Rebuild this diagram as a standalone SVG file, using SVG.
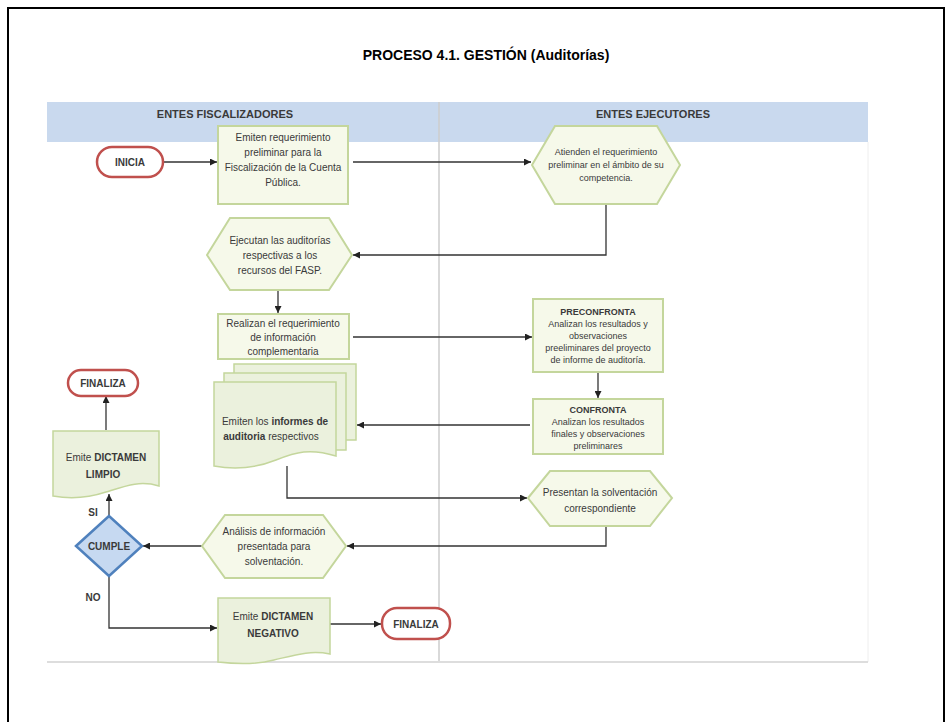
<svg xmlns="http://www.w3.org/2000/svg" width="952" height="722" viewBox="0 0 952 722">
<defs>
<marker id="ah" viewBox="0 0 10 10" refX="10" refY="5" markerWidth="7" markerHeight="7" orient="auto" markerUnits="userSpaceOnUse">
<path d="M0,0 L10,5 L0,10 Z" fill="#222"/>
</marker>
<style>
.t{font-family:"Liberation Sans",Arial,sans-serif;fill:#3a3a3a;text-anchor:middle}
.s9{font-size:9px}
.s10{font-size:10px}
.b{font-weight:bold}
.box{fill:#f6f9ea;stroke:#c4d69c;stroke-width:2}
.doc{fill:#ebf1dd;stroke:#c4d69c;stroke-width:1.5}
.pill{fill:#fff;stroke:#c0504d;stroke-width:2.5}
.c{fill:none;stroke:#333;stroke-width:1.3;marker-end:url(#ah)}
</style>
</defs>
<rect x="0" y="0" width="952" height="722" fill="#fff"/>
<rect x="8" y="8" width="936" height="730" fill="none" stroke="#000" stroke-width="2"/>
<text x="486" y="60" font-family="'Liberation Sans',Arial,sans-serif" font-size="14" font-weight="bold" text-anchor="middle" fill="#000">PROCESO 4.1. GESTIÓN (Auditorías)</text>

<g id="lanes">
<rect x="47" y="102" width="821" height="40" fill="#c9d9ee"/>
<line x1="439" y1="102" x2="439" y2="662" stroke="#ccc" stroke-width="1.5"/>
<line x1="868" y1="142" x2="868" y2="662" stroke="#eee" stroke-width="1"/>
<line x1="47" y1="662" x2="868" y2="662" stroke="#ddd" stroke-width="2"/>
<text class="t b" x="225" y="118" font-size="11">ENTES FISCALIZADORES</text>
<text class="t b" x="653" y="118" font-size="11">ENTES EJECUTORES</text>
</g>

<g id="connectors">
<path class="c" d="M163,162 H217"/>
<path class="c" d="M353,162 H531"/>
<path class="c" d="M606,204 V255 H353"/>
<path class="c" d="M278,290 V313"/>
<path class="c" d="M353,337 H532"/>
<path class="c" d="M598,372 V398"/>
<path class="c" d="M530,425 H357"/>
<path class="c" d="M287,466 V498 H527"/>
<path class="c" d="M606,527 V546 H347"/>
<path class="c" d="M202,546 H143"/>
<path class="c" d="M109,516 V494"/>
<path class="c" d="M106,430 V396"/>
<path class="c" d="M109,576 V628 H217"/>
<path class="c" d="M330,624 H381"/>
</g>

<g id="inicia">
<rect class="pill" x="97" y="147" width="66" height="30" rx="15"/>
<text class="t b s10" x="130" y="166">INICIA</text>
</g>

<g id="emiten-req">
<rect class="box" x="218" y="126" width="130" height="78"/>
<text class="t s10" x="283" y="141">Emiten requerimiento</text>
<text class="t s10" x="283" y="156">preliminar para la</text>
<text class="t s10" x="283" y="171">Fiscalización de la Cuenta</text>
<text class="t s10" x="283" y="186">Pública.</text>
</g>

<g id="atienden">
<polygon class="box" points="532,165 555,126 657,126 680,165 657,204 555,204"/>
<text class="t s9" x="606" y="155">Atienden el requerimiento</text>
<text class="t s9" x="606" y="168">preliminar en el ámbito de su</text>
<text class="t s9" x="606" y="181">competencia.</text>
</g>

<g id="ejecutan">
<polygon class="box" points="207,255 230,218 329,218 352,255 329,290 230,290"/>
<text class="t s10" x="280" y="244">Ejecutan las auditorías</text>
<text class="t s10" x="280" y="259">respectivas a los</text>
<text class="t s10" x="280" y="274">recursos del FASP.</text>
</g>

<g id="realizan">
<rect class="box" x="218" y="314" width="131" height="45"/>
<text class="t s10" x="283" y="327">Realizan el requerimiento</text>
<text class="t s10" x="283" y="341">de información</text>
<text class="t s10" x="283" y="355">complementaria</text>
</g>

<g id="preconfronta">
<rect class="box" x="533" y="299" width="130" height="73"/>
<text class="t s9 b" x="598" y="315">PRECONFRONTA</text>
<text class="t s9" x="598" y="327">Analizan los resultados y</text>
<text class="t s9" x="598" y="339">observaciones</text>
<text class="t s9" x="598" y="351">preeliminares del proyecto</text>
<text class="t s9" x="598" y="363">de informe de auditoría.</text>
</g>

<g id="confronta">
<rect class="box" x="533" y="399" width="130" height="55"/>
<text class="t s9 b" x="598" y="413">CONFRONTA</text>
<text class="t s9" x="598" y="425">Analizan los resultados</text>
<text class="t s9" x="598" y="437">finales y observaciones</text>
<text class="t s9" x="598" y="449">preliminares</text>
</g>

<g id="informes">
<path class="doc" d="M234,364 H356 V440 H234 Z"/>
<path class="doc" d="M224,373 H346 V450 H224 Z"/>
<path class="doc" d="M214,382 H336 V456 C310,448 296,452 276,460 C256,468 236,470 214,466 Z"/>
<text class="t s10" x="275" y="425"><tspan>Emiten los </tspan><tspan class="b">informes de</tspan></text>
<text class="t s10" x="271" y="440"><tspan class="b">auditoria</tspan><tspan> respectivos</tspan></text>
</g>

<g id="presentan">
<polygon class="box" points="528,498 550,471 650,471 672,498 650,526 550,526"/>
<text class="t s10" x="600" y="496">Presentan la solventación</text>
<text class="t s10" x="600" y="512">correspondiente</text>
</g>

<g id="analisis">
<polygon class="box" points="202,546 225,515 323,515 346,546 323,578 225,578"/>
<text class="t s10" x="274" y="535">Análisis de información</text>
<text class="t s10" x="274" y="550">presentada para</text>
<text class="t s10" x="274" y="565">solventación.</text>
</g>

<g id="cumple">
<polygon points="76,546 109,516 142,546 109,576" fill="#c6d9f1" stroke="#4f81bd" stroke-width="2.5"/>
<text class="t b" x="109" y="550" font-size="10">CUMPLE</text>
<text class="t b s10" x="93" y="516">SI</text>
<text class="t b s10" x="93" y="601">NO</text>
</g>

<g id="dictamen-limpio">
<path class="doc" d="M53,431 H159 V486 C140,480 125,486 106,492 C88,498 70,499 53,496 Z"/>
<text class="t s10" x="106" y="461"><tspan>Emite </tspan><tspan class="b">DICTAMEN</tspan></text>
<text class="t s10 b" x="103" y="478">LIMPIO</text>
</g>

<g id="finaliza-1">
<rect class="pill" x="68" y="370" width="70" height="26" rx="13"/>
<text class="t b s10" x="103" y="387">FINALIZA</text>
</g>

<g id="dictamen-negativo">
<path class="doc" d="M218,598 H330 V654 C310,650 295,655 274,660 C255,665 236,664 218,662 Z"/>
<text class="t s10" x="273" y="620"><tspan>Emite </tspan><tspan class="b">DICTAMEN</tspan></text>
<text class="t s10 b" x="273" y="637">NEGATIVO</text>
</g>

<g id="finaliza-2">
<rect class="pill" x="382" y="608" width="68" height="31" rx="15"/>
<text class="t b s10" x="416" y="628">FINALIZA</text>
</g>
</svg>
